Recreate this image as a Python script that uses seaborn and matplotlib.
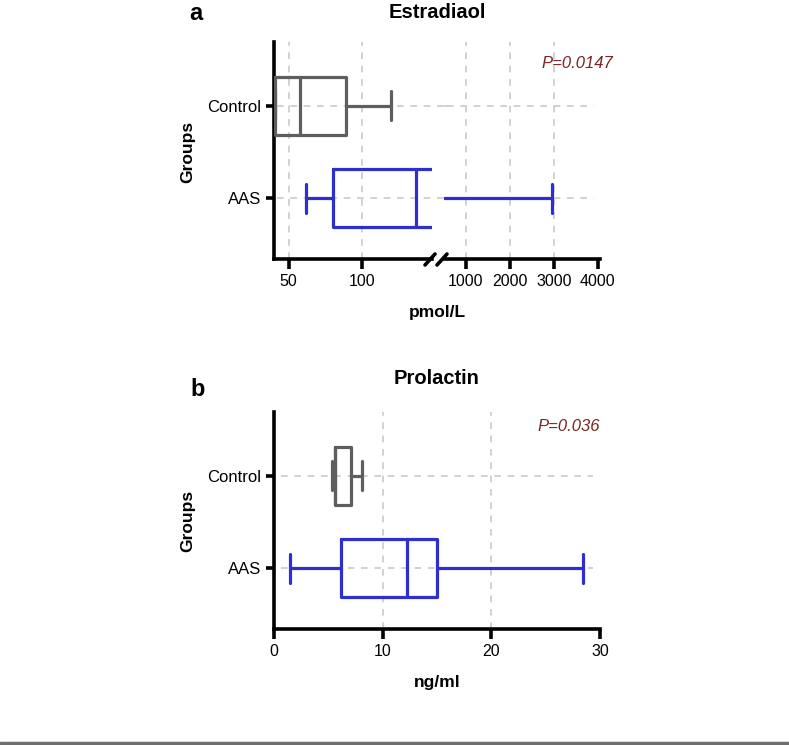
import numpy as np
import pandas as pd
import matplotlib.pyplot as plt
import seaborn as sns
from matplotlib.lines import Line2D

# Daten: min, Q1, Median, Q3, max
groups = ["Control", "AAS"]
estradiol_control = [40.5, 41, 57.5, 89, 120]
estradiol_aas = [62, 80, 137, 300, 2950]
prolactin_control = [5.3, 5.6, 5.65, 7.1, 8.1]
prolactin_aas = [1.5, 6.2, 12.2, 15.0, 28.4]

estradiol_left_ticks = [50, 100]
estradiol_right_ticks = [1000, 2000, 3000, 4000]
prolactin_ticks = [0, 10, 20, 30]

p_estradiol = "P=0.0147"
p_prolactin = "P=0.036"

colors = {"Control": "#5e5e5e", "AAS": "#2f2fcf"}
grid_color = "#c9c9c9"
LW = 2.6


def make_df(control, aas):
    return pd.DataFrame({"group": ["Control"] * len(control) + ["AAS"] * len(aas),
                         "value": control + aas})


def draw_box(ax, df):
    # mit 5 Werten ergibt np.percentile genau Q1/Median/Q3
    sns.boxplot(data=df, x="value", y="group", order=groups, hue="group",
                hue_order=groups, palette=colors, fill=False, whis=np.inf,
                width=0.63, linewidth=2.3, legend=False, ax=ax, zorder=3)


def style_axis(ax, xlim, ticks, grid_ticks, show_y=True, hline_ext=1.0):
    ax.set_xlim(*xlim)
    ax.set_ylim(1.66, -0.69)
    ax.set_xticks(ticks)
    ax.set_xlabel("")
    ax.set_ylabel("")
    for s in ["top", "right"]:
        ax.spines[s].set_visible(False)
    ax.spines["bottom"].set_linewidth(LW)
    ax.spines["bottom"].set_color("black")
    ax.tick_params(axis="x", bottom=True, width=LW, length=7, labelsize=11.5,
                   pad=4, color="black", labelcolor="black")
    if show_y:
        ax.spines["left"].set_linewidth(LW)
        ax.spines["left"].set_color("black")
        ax.tick_params(axis="y", left=True, width=LW, length=6, labelsize=12,
                       pad=3, color="black", labelcolor="black")
    else:
        ax.spines["left"].set_visible(False)
        ax.set_yticks([])
    for t in grid_ticks:
        ax.axvline(t, color=grid_color, ls=(0, (4, 4)), lw=1.2, zorder=0)
    for y in range(len(groups)):
        ax.plot([xlim[0] + (xlim[1] - xlim[0]) * 0.02, xlim[0] + (xlim[1] - xlim[0]) * hline_ext],
                [y, y], color=grid_color, ls=(0, (4, 4)), lw=1.2, zorder=0, clip_on=False)


sns.set_style("white")
plt.rcParams["font.family"] = ["Liberation Sans", "DejaVu Sans"]
plt.rcParams["text.color"] = "black"

W, H = 789, 745
fig = plt.figure(figsize=(W / 100, H / 100), dpi=100)


def rect(x0, x1, y0, y1):
    return [x0 / W, 1 - y1 / H, (x1 - x0) / W, (y1 - y0) / H]


# Panel a: Estradiol mit unterbrochener x-Achse
ax_l = fig.add_axes(rect(274, 432, 42, 259))
ax_r = fig.add_axes(rect(444, 600, 42, 259))
df_e = make_df(estradiol_control, estradiol_aas)
draw_box(ax_l, df_e)
draw_box(ax_r, df_e)
style_axis(ax_l, (40, 148), estradiol_left_ticks, estradiol_left_ticks, hline_ext=1.08)
style_axis(ax_r, (500, 4050), estradiol_right_ticks, estradiol_right_ticks[:-1],
           show_y=False, hline_ext=0.96)
ax_r.plot([500, 500 + 0.02 * 3550], [0, 0], color=grid_color, ls=(0, (4, 4)), lw=1.2, zorder=0)

# Bruchzeichen
for x0 in (425, 437):
    fig.add_artist(Line2D([x0 / W, (x0 + 10) / W], [1 - 265 / H, 1 - 254 / H],
                          color="black", lw=LW))

# Panel b: Prolactin
ax_b = fig.add_axes(rect(274, 600, 412, 629))
draw_box(ax_b, make_df(prolactin_control, prolactin_aas))
style_axis(ax_b, (0, 30), prolactin_ticks, prolactin_ticks[1:-1], hline_ext=0.98)

# Texte
bold = dict(fontweight="bold", ha="center", va="center", color="black")
fig.text(196 / W, 1 - 14 / H, "a", fontsize=17, **bold)
fig.text(437 / W, 1 - 13 / H, "Estradiaol", fontsize=14.5, **bold)
fig.text(198 / W, 1 - 390 / H, "b", fontsize=17, **bold)
fig.text(437 / W, 1 - 379 / H, "Prolactin", fontsize=14.5, **bold)
fig.text(188 / W, 1 - 152 / H, "Groups", fontsize=12.5, rotation=90, **bold)
fig.text(188 / W, 1 - 521 / H, "Groups", fontsize=12.5, rotation=90, **bold)
fig.text(437 / W, 1 - 313 / H, "pmol/L", fontsize=12.5, **bold)
fig.text(437 / W, 1 - 683 / H, "ng/ml", fontsize=12.5, **bold)
fig.text(613 / W, 1 - 63 / H, p_estradiol, fontsize=12, style="italic",
         color="#7a2424", ha="right", va="center")
fig.text(600 / W, 1 - 426 / H, p_prolactin, fontsize=12, style="italic",
         color="#7a2424", ha="right", va="center")

# graue Linie unten
fig.add_artist(Line2D([0, 1], [1 - 743 / H, 1 - 743 / H], color="#6e6e6e", lw=2.5))

fig.savefig("out.png", dpi=100)
